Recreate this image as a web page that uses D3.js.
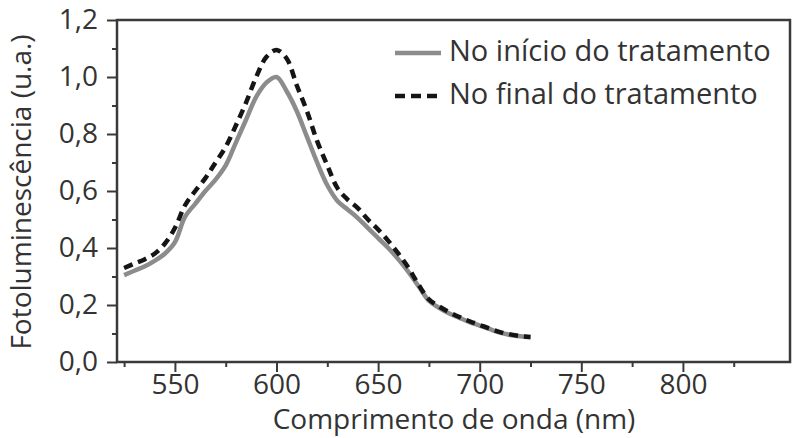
<!DOCTYPE html>
<html>
<head>
<meta charset="utf-8">
<script src="https://cdn.jsdelivr.net/npm/d3@7"></script>
<style>
  html, body { margin: 0; padding: 0; background: #fff; }
  svg { display: block; font-family: "Open Sans", sans-serif; }
</style>
</head>
<body>
<svg id="chart" width="793" height="438"></svg>
<script>
// wavelengths (nm) and the two emission spectra
const wavelengths = [525, 530, 535, 540, 545, 550, 555, 560, 565, 570, 575, 580, 585, 590, 595, 600,
  605, 610, 615, 620, 625, 630, 635, 640, 645, 650, 655, 660, 665, 670, 675, 680,
  685, 690, 695, 700, 705, 710, 715, 720, 725];
const inicio = [0.305, 0.32, 0.335, 0.355, 0.38, 0.42, 0.51, 0.555, 0.60, 0.64, 0.69, 0.77, 0.85, 0.93, 0.98, 1.0,
  0.95, 0.88, 0.79, 0.70, 0.62, 0.565, 0.535, 0.505, 0.47, 0.435, 0.40, 0.36, 0.315, 0.265, 0.215, 0.19,
  0.17, 0.155, 0.14, 0.128, 0.115, 0.103, 0.095, 0.09, 0.087];
const final = [0.33, 0.345, 0.36, 0.38, 0.415, 0.47, 0.55, 0.60, 0.645, 0.70, 0.755, 0.83, 0.91, 1.0, 1.07, 1.095,
  1.065, 0.97, 0.88, 0.775, 0.69, 0.61, 0.57, 0.54, 0.50, 0.465, 0.425, 0.38, 0.33, 0.27, 0.22, 0.195,
  0.175, 0.158, 0.143, 0.13, 0.117, 0.105, 0.097, 0.091, 0.088];

const xTicks = [550, 600, 650, 700, 750, 800];
const xMinor = [525, 575, 625, 675, 725, 775, 825];
const yTicks = [0, 0.2, 0.4, 0.6, 0.8, 1.0, 1.2];
const yMinor = [0.1, 0.3, 0.5, 0.7, 0.9, 1.1];
const legendLabels = ['No início do tratamento', 'No final do tratamento'];

const svg = d3.select('#chart');
const plotL = 117, plotR = 790, plotT = 20, plotB = 362;

const x = d3.scaleLinear().domain([521.5, 852.7]).range([plotL, plotR]);
const y = d3.scaleLinear().domain([0, 1.2]).range([plotB, plotT]);

const pt = d3.formatLocale({ decimal: ',', thousands: '.', grouping: [3], currency: ['', ''] });
const fmt = pt.format('.1f');

const axisColor = '#3a3a3a';
const textColor = '#333';

// minor ticks first
svg.append('g')
  .attr('transform', `translate(0,${plotB})`)
  .call(d3.axisBottom(x).tickValues(xMinor).tickSize(5).tickFormat(''))
  .call(g => g.select('.domain').remove());
svg.append('g')
  .attr('transform', `translate(${plotL},0)`)
  .call(d3.axisLeft(y).tickValues(yMinor).tickSize(5).tickFormat(''))
  .call(g => g.select('.domain').remove());

const xAxis = svg.append('g')
  .attr('transform', `translate(0,${plotB})`)
  .call(d3.axisBottom(x).tickValues(xTicks).tickSize(10).tickPadding(2).tickFormat(d3.format('d')));
xAxis.select('.domain').remove();

const yAxis = svg.append('g')
  .attr('transform', `translate(${plotL},0)`)
  .call(d3.axisLeft(y).tickValues(yTicks).tickSize(10).tickPadding(9).tickFormat(fmt));
yAxis.select('.domain').remove();

svg.selectAll('.tick line').attr('stroke', axisColor).attr('stroke-width', 2);
svg.selectAll('.tick text')
  .attr('fill', textColor)
  .style('font-size', '28px')
  .style('font-family', '"Open Sans", sans-serif');

// frame
svg.append('rect')
  .attr('x', plotL)
  .attr('y', plotT)
  .attr('width', plotR - plotL)
  .attr('height', plotB - plotT)
  .attr('fill', 'none')
  .attr('stroke', axisColor)
  .attr('stroke-width', 2.5);

const line = d3.line()
  .x((d, i) => x(wavelengths[i]))
  .y(d => y(d))
  .curve(d3.curveCatmullRom.alpha(0.5));

svg.append('path')
  .datum(inicio)
  .attr('d', line)
  .attr('fill', 'none')
  .attr('stroke', '#8c8c8c')
  .attr('stroke-width', 4.5);

svg.append('path')
  .datum(final)
  .attr('d', line)
  .attr('fill', 'none')
  .attr('stroke', '#151515')
  .attr('stroke-width', 4.5)
  .attr('stroke-dasharray', '9,6');

// legend
const legend = svg.append('g');
const legendRows = [
  { label: legendLabels[0], y: 53, color: '#8c8c8c', dash: null },
  { label: legendLabels[1], y: 96, color: '#151515', dash: '10,6' }
];
legendRows.forEach(r => {
  legend.append('line')
    .attr('x1', 395).attr('x2', 441)
    .attr('y1', r.y).attr('y2', r.y)
    .attr('stroke', r.color)
    .attr('stroke-width', 4.5)
    .attr('stroke-dasharray', r.dash);
  legend.append('text')
    .attr('x', 449)
    .attr('y', r.y + 8)
    .attr('fill', textColor)
    .style('font-size', '29px')
    .text(r.label);
});

// axis titles
svg.append('text')
  .attr('x', 454)
  .attr('y', 429)
  .attr('text-anchor', 'middle')
  .attr('fill', textColor)
  .style('font-size', '28px')
  .text('Comprimento de onda (nm)');

svg.append('text')
  .attr('transform', `translate(31,${192}) rotate(-90)`)
  .attr('text-anchor', 'middle')
  .attr('fill', textColor)
  .style('font-size', '28px')
  .text('Fotoluminescência (u.a.)');
</script>
</body>
</html>
